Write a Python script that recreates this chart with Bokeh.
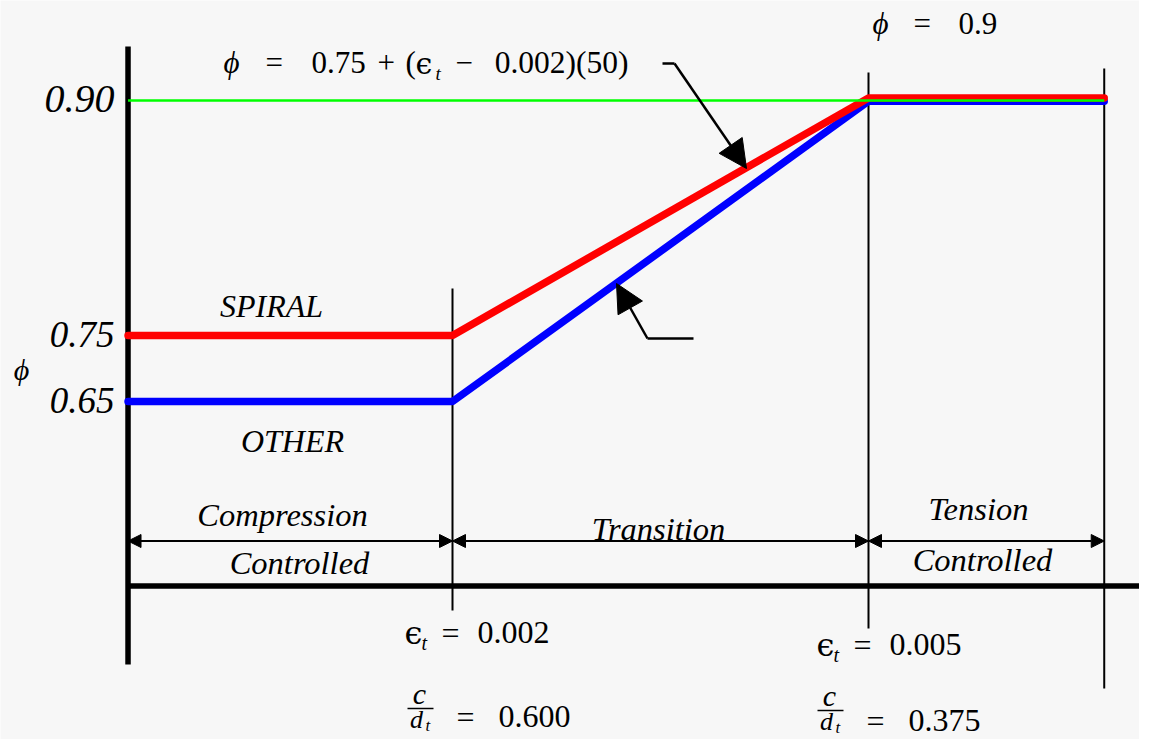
import numpy as np
from bokeh.plotting import figure
from bokeh.models import Range1d, Label, Arrow, NormalHead
from bokeh.embed import file_html
from bokeh.resources import INLINE

# ---------------- data ----------------
strain_limits = [0.002, 0.005]            # eps_t limits: compression-controlled / tension-controlled
c_dt_labels = ["0.600", "0.375"]          # c/d_t at those limits
strain_axis = -0.00034                    # diagram origin (axis) in strain units
strain_end = 0.0067                       # right end of the diagram
strain_path = [strain_axis, 0.002, 0.005, strain_end]
phi_spiral = [0.75, 0.75, 0.90, 0.90]
phi_other = [0.65, 0.65, 0.90, 0.90]
phi_ticks = [0.90, 0.75, 0.65]
phi_tick_labels = ["0.90", "0.75", "0.65"]
zone_top = ["Compression", "Transition", "Tension"]
zone_bottom = ["Controlled", "", "Controlled"]

# ---------------- layout ----------------
W, H = 1139, 739
PX = 416 / 0.003                          # pixels per unit strain
X0 = 0.002 - 452 / PX
x_range = Range1d(X0, X0 + W / PX)
y_range = Range1d(H, 0)                   # diagram rows (not-to-scale phi axis), top-down

# phi axis is drawn "not to scale": piecewise mapping of phi levels to rows
PHI_ANCH = [0.65, 0.75, 0.90]
ROW_ANCH = [401, 335, 100]
def row(phi):
    return np.interp(phi, PHI_ANCH, ROW_ANCH)

def sx(X):
    return X0 + X / PX

FONT = "Liberation Serif"
GFONT = "DejaVu Serif"
PHI = "\u03d5"
EPS = "\u03f5"

p = figure(width=W, height=H, x_range=x_range, y_range=y_range,
           output_backend="svg", toolbar_location=None, min_border=0,
           x_axis_location=None, y_axis_location=None,
           background_fill_color="#f7f7f7", border_fill_color="#f7f7f7",
           outline_line_color=None)
p.grid.visible = False

# frame axes (thick)
p.line([strain_axis, strain_axis], [46, 664], line_color="black", line_width=5.5)
p.line([strain_axis, sx(1160)], [585.5, 585.5], line_color="black", line_width=5.5)

# thin vertical limit lines
p.line([strain_limits[0]] * 2, [288, 610], line_color="black", line_width=2)
p.line([strain_limits[1]] * 2, [72, 628], line_color="black", line_width=2)
p.line([strain_end] * 2, [68, 688], line_color="black", line_width=2)

# phi curves
ps = np.array(phi_spiral); po = np.array(phi_other)
p.line(strain_path, row(po) + np.where(po == 0.90, 0.8, 0), line_color="#0000ff",
       line_width=7.5, line_cap="round", line_join="round")
p.line(strain_path, row(ps) + np.where(ps == 0.90, -2.5, 0), line_color="#ff0000",
       line_width=7.5, line_cap="round", line_join="round")
p.line([strain_axis, strain_end], [row(0.90)] * 2, line_color="#00ff00", line_width=2.5)

# dimension arrows
edges = [strain_axis] + strain_limits + [strain_end]
for a, b in zip(edges[:-1], edges[1:]):
    p.add_layout(Arrow(x_start=a, x_end=b, y_start=540.5, y_end=540.5, line_width=2,
                       start=NormalHead(size=13, fill_color="black", line_color="black"),
                       end=NormalHead(size=13, fill_color="black", line_color="black")))

# pointer arrows
p.line([sx(662), sx(674)], [63, 63], line_color="black", line_width=2.5)
p.add_layout(Arrow(x_start=sx(674), y_start=63, x_end=sx(746), y_end=168, line_width=2.5,
                   end=NormalHead(size=28, fill_color="black", line_color="black")))
p.line([sx(647), sx(693)], [338, 338], line_color="black", line_width=2.5)
p.add_layout(Arrow(x_start=sx(647), y_start=338, x_end=sx(616), y_end=283, line_width=2.5,
                   end=NormalHead(size=28, fill_color="black", line_color="black")))

BASE_SHIFT = 0.34   # compensation of the svg text baseline placement (em)

def lab(text, X, Y, size, align="left", italic=False, font=FONT):
    p.add_layout(Label(x=sx(X), y=Y - BASE_SHIFT * size, text=text, text_font=font,
                       text_font_size=f"{size}px", text_align=align,
                       text_baseline="alphabetic",
                       text_font_style="italic" if italic else "normal",
                       text_color="black"))

# tick labels
for t, txt, s in zip(phi_ticks, phi_tick_labels, [40, 37, 37]):
    lab(txt, 114, row(t) + 12, s, "right", True)
lab(PHI, 21, 379, 30, "center", True)

# curve labels
lab("SPIRAL", 271, 316, 32, "center", True)
lab("OTHER", 292, 451, 32, "center", True)

# zone labels
lab(zone_top[0], 282, 526, 32.5, "center", True)
lab(zone_bottom[0], 299, 574, 32.5, "center", True)
lab(zone_top[1], 658, 540, 32.5, "center", True)
lab(zone_top[2], 978, 520, 32.5, "center", True)
lab(zone_bottom[2], 982, 571, 32.5, "center", True)

# formula
lab(PHI, 223, 73, 31, "left", True)
lab("=", 265, 73, 31)
lab("0.75", 311, 73, 31)
lab("+", 377, 73, 31)
lab("(", 405, 73, 31)
lab(EPS, 415, 73, 30, font=GFONT)
lab("t", 435, 79, 19, "left", True)
lab("\u2212", 455, 73, 31)
lab("0.002)(50)", 628, 73, 31.5, "right")

lab(PHI, 872, 34, 31, "left", True)
lab("=", 913, 34, 31)
lab("0.9", 958, 34, 31)

# bottom strain / c/dt labels
for (ex, eb, cx, cb, xv, sval, vb) in [(404, 643, 419, 703, strain_limits[0], c_dt_labels[0], 727),
                                       (816, 655, 829, 705, strain_limits[1], c_dt_labels[1], 731)]:
    lab(EPS, ex, eb, 32, font=GFONT)
    lab("t", ex + 17, eb + 6, 20, "left", True)
    lab("=", ex + 37, eb, 32)
    lab(f"{xv:.3f}", ex + 73, eb, 32)
    lab("c", cx, cb, 30, "center", True)
    p.line([sx(cx - 12), sx(cx + 14)], [cb + 5, cb + 5], line_color="black", line_width=1.5)
    lab("d", cx - 3, cb + 25, 26, "center", True)
    lab("t", cx + 6, cb + 28, 17, "left", True)
    lab("=", cx + 46, vb, 32, "center")
    lab(sval, cx + 79, vb, 32)

open("out.html", "w").write(file_html(p, INLINE))
